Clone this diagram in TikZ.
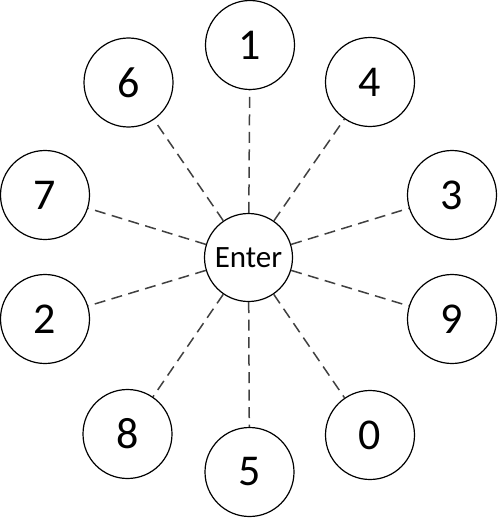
\documentclass[tikz,border=0pt]{standalone}
\usepackage{fontspec}
\setmainfont{Carlito}
\usetikzlibrary{calc}
\tikzstyle{vertex}=[circle,draw,line width=1.2pt,minimum size=89pt,inner sep=0pt,font=\fontsize{44}{44}\selectfont]
\tikzstyle{hub}=[circle,draw,line width=1.2pt,minimum size=88pt,inner sep=0pt,font=\fontsize{31}{31}\selectfont]
\tikzstyle{spoke} = [draw=black!75,line width=1.5pt,dash pattern=on 11pt off 6.5pt]

\begin{document}
\begin{tikzpicture}[x=1pt,y=-1pt]
    \useasboundingbox (0,0) rectangle (498,527);

    \node[hub] (enter) at (248.5,257.5) {Enter};

    \foreach \pos/ \name in {{(250,45)/1}, {(370,82)/4}, {(452,195)/3}, {(452,319)/9}, {(370,435)/0},
                             {(249.5,472)/5}, {(127.5,434)/8}, {(45,319)/2}, {(45,195)/7}, {(128.5,82.5)/6}}
        \node[vertex] (\name) at \pos {\name};

    % dashed spokes from the centre to each digit
    \foreach \dest in {1,4,3,9,0,5,8,2,7,6}
        \path[spoke] (enter) -- (\dest);

\end{tikzpicture}
\end{document}
